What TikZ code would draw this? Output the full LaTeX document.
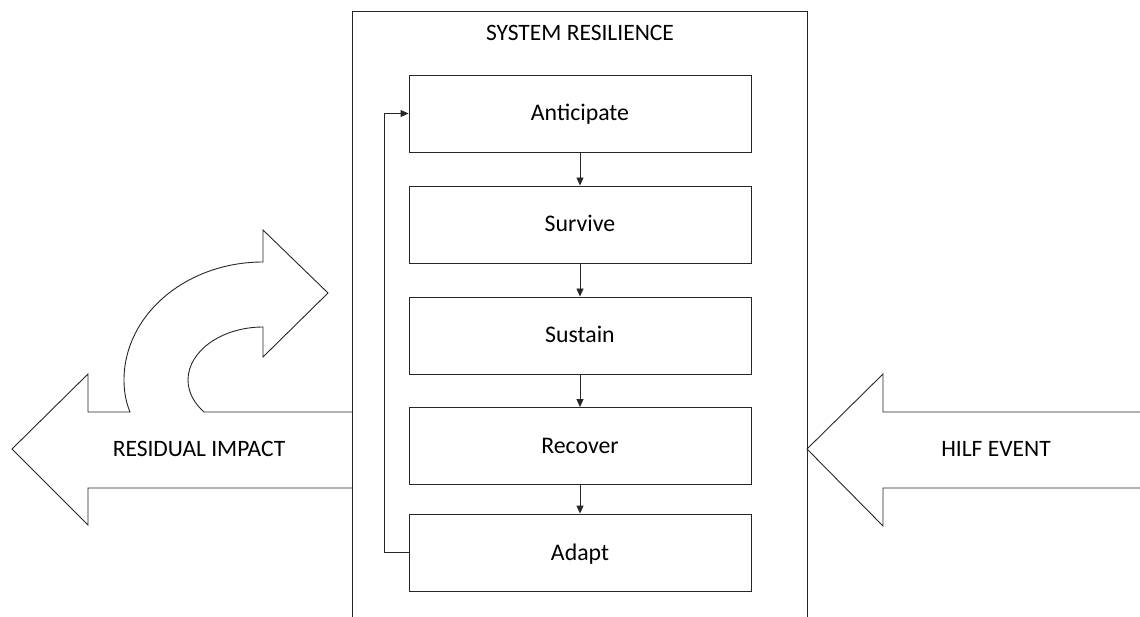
\documentclass[tikz,border=0pt]{standalone}
\usepackage{fontspec}
\setmainfont{Carlito}
\usetikzlibrary{arrows.meta}
\begin{document}
\begin{tikzpicture}[x=1pt,y=-1pt,
  ln/.style={line width=0.9pt,draw=black!85},
  stage/.style={ln,minimum width=342pt,minimum height=77pt,inner sep=0pt,
    font=\fontsize{23.8}{28}\selectfont,text height=15pt,text depth=0pt},
  lbl/.style={font=\fontsize{23.5}{28}\selectfont,inner sep=0pt,text height=15pt,text depth=0pt},
  flow/.style={ln,-{Triangle[length=8pt,width=7pt]}}]
\useasboundingbox (0,0) rectangle (1140,617);
\begin{scope}
\clip (0,0) rectangle (1140,617);
\node[ln,draw,minimum width=455pt,minimum height=640pt,inner sep=0pt,anchor=north west] (sys) at (352,11) {};
\end{scope}
\node[lbl,font=\fontsize{23.5}{28}\selectfont] (title) at (580,33) {SYSTEM RESILIENCE};
\node[stage,draw] (ant) at (580,113.5) {Anticipate};
\node[stage,draw] (sur) at (580,224.5) {Survive};
\node[stage,draw] (sus) at (580,335.5) {Sustain};
\node[stage,draw] (rec) at (580,446) {Recover};
\node[stage,draw] (ada) at (580,552.5) {Adapt};
\draw[flow] (ant) -- (sur);
\draw[flow] (sur) -- (sus);
\draw[flow] (sus) -- (rec);
\draw[flow] (rec) -- (ada);
\draw[flow] (ada.west) -- ++(-24,0) |- (ant.west);
% left arrow with u-turn
\draw[ln,line join=miter] (352,488) -- (88,488) -- (88,525) -- (12,449) -- (88,374) -- (88,412) -- (130,412)
  .. controls (126,402) and (124,392) .. (124,380)
  .. controls (124,315) and (186,262) .. (263,262)
  -- (263,230) -- (328,293) -- (263,357) -- (263,327)
  .. controls (222,327) and (188,351) .. (188,380)
  .. controls (188,393) and (195,404) .. (204,412) -- (352,412);
\node[lbl] (res) at (199,449) {RESIDUAL IMPACT};
% right arrow
\draw[ln,line join=miter] (1140,412) -- (883,412) -- (883,374) -- (807,449) -- (883,526) -- (883,488) -- (1140,488);
\node[lbl] (hilf) at (996,449) {HILF EVENT};
\end{tikzpicture}
\end{document}
